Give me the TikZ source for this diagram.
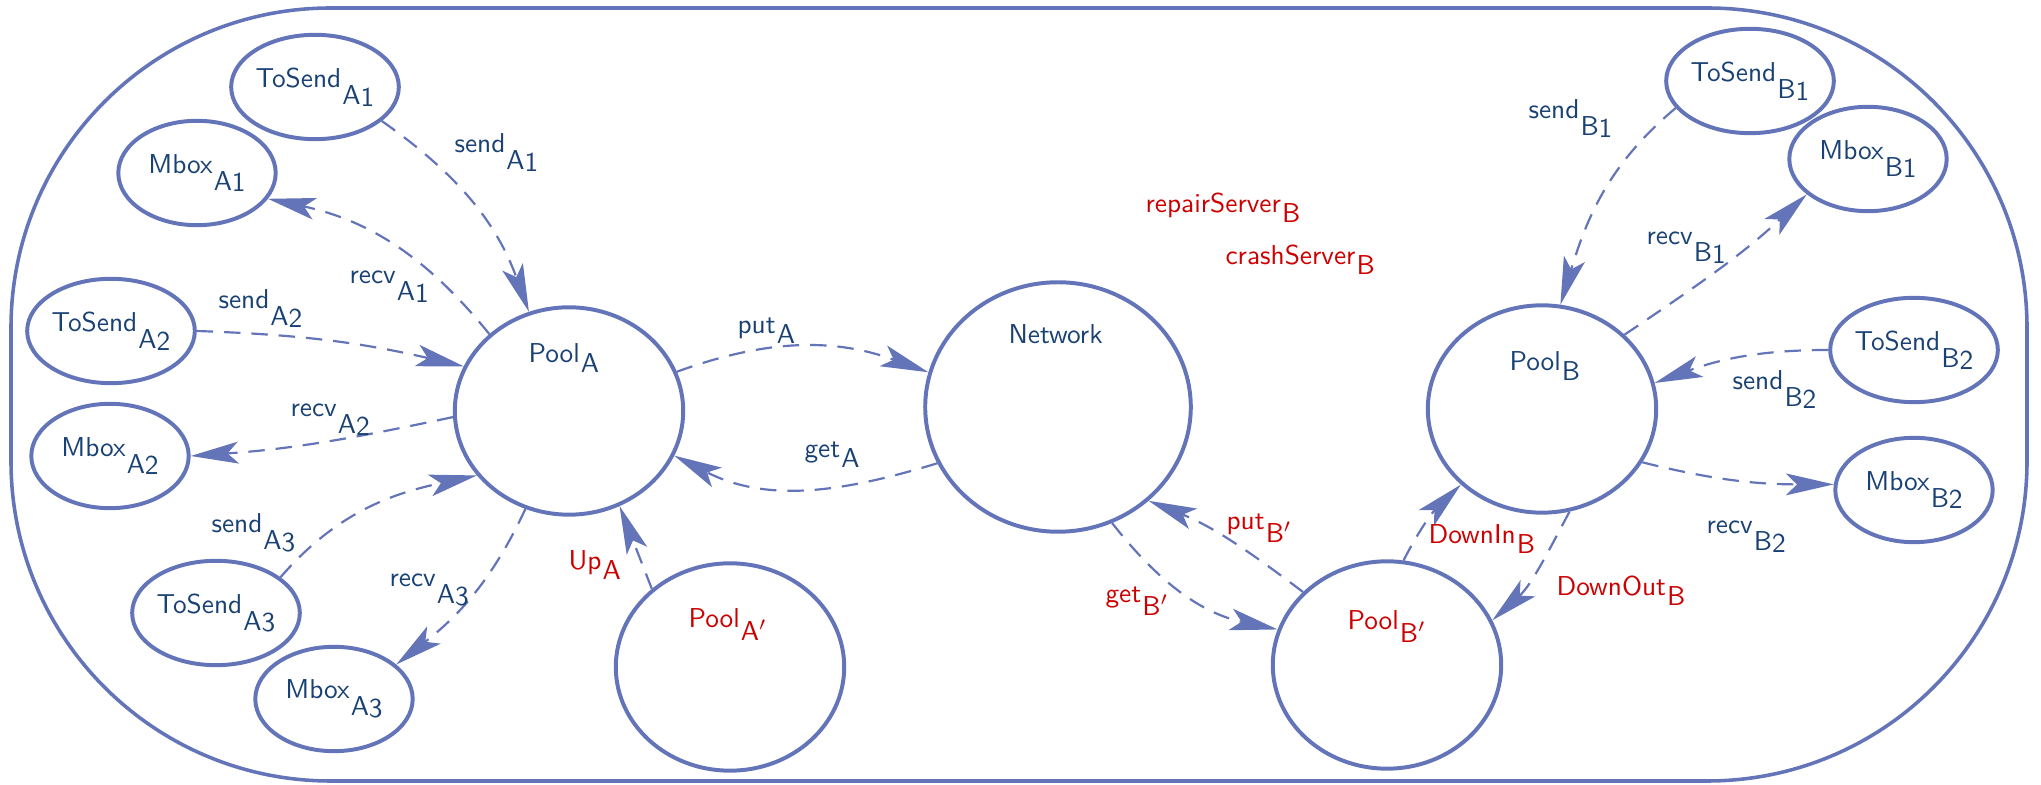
\documentclass[tikz,border=0pt]{standalone}
\usetikzlibrary{arrows.meta,shapes.geometric}

\definecolor{navy}{RGB}{25,65,115}
\definecolor{edgeblue}{RGB}{99,116,184}
\definecolor{alertred}{RGB}{204,0,0}

% full-size lowered subscripts
\newcommand\sbl[1]{\kern0.4pt\raisebox{-3.4pt}{#1}}
\newcommand\sbd[2]{\kern0.4pt\raisebox{-6.2pt}{#1\raisebox{-0.6pt}{#2}}}
\newcommand\sbp[1]{\kern0.4pt\raisebox{-4.5pt}{#1$'$}}

\begin{document}
\begin{tikzpicture}[x=0.366pt, y=0.366pt, font=\sffamily,
  place/.style={ellipse, draw=edgeblue, line width=1.45pt, inner sep=0pt, text=navy},
  smallplace/.style={place, minimum width=57.6pt, minimum height=38.2pt},
  bigplace/.style={place, minimum width=83.6pt, minimum height=75.9pt},
  netplace/.style={place, minimum width=97.2pt, minimum height=91.3pt},
  conn/.style={draw=edgeblue, line width=0.8pt, dash pattern=on 6pt off 4pt,
    -{Stealth[length=17.5pt, width=8pt, inset=4pt]}},
  lbl/.style={text=navy, anchor=base west, inner sep=0pt},
  rlbl/.style={text=alertred, anchor=base west, inner sep=0pt}]

\useasboundingbox (0,0) rectangle (2041,-785);

% enclosing frame
\draw[draw=edgeblue, line width=1.3pt, rounded corners=117pt] (11,-8) rectangle (2027,-781);

% places
\node[smallplace] (tsA1) at (315,-87) {ToSend\sbd{A}{1}};
\node[smallplace] (mbA1) at (197,-173) {Mbox\sbd{A}{1}};
\node[smallplace] (tsA2) at (111,-331) {ToSend\sbd{A}{2}};
\node[smallplace] (mbA2) at (110,-456) {Mbox\sbd{A}{2}};
\node[smallplace] (tsA3) at (216,-613) {ToSend\sbd{A}{3}};
\node[smallplace] (mbA3) at (334,-699) {Mbox\sbd{A}{3}};
\node[bigplace] (poolA) at (569,-411) {};
\node[bigplace] (poolAp) at (730,-667) {};
\node[netplace] (net) at (1058,-407) {};
\node[bigplace] (poolBp) at (1387,-665) {};
\node[bigplace] (poolB) at (1542,-409) {};
\node[smallplace] (tsB1) at (1750,-81) {ToSend\sbd{B}{1}};
\node[smallplace] (mbB1) at (1868,-159) {Mbox\sbd{B}{1}};
\node[smallplace] (tsB2) at (1914,-350) {ToSend\sbd{B}{2}};
\node[smallplace] (mbB2) at (1914,-490) {Mbox\sbd{B}{2}};

% names of the large places
\node[lbl] (t-poolA) at (528,-363) {Pool\sbl{A}};
\node[lbl] (t-net) at (1008,-344) {Network};
\node[lbl] (t-poolB) at (1509,-371) {Pool\sbl{B}};
\node[rlbl] (t-poolAp) at (688,-628) {Pool\sbp{A}};
\node[rlbl] (t-poolBp) at (1347,-630) {Pool\sbp{B}};

% arcs
\draw[conn] (tsA1.-27) to[out=-35, in=110] (poolA.112);
\draw[conn] (poolA.136) to[out=129, in=-12] (mbA1.-20);
\draw[conn] (tsA2.0) to[out=-2, in=167] (poolA.157);
\draw[conn] (poolA.183) to[out=192, in=4] (mbA2.0);
\draw[conn] (poolA.20) to[out=20, in=160] (net.165);
\draw[conn] (net.205) to[out=197, in=-27] (poolA.-23);
\draw[conn] (tsA3.29) to[out=49, in=192] (poolA.215);
\draw[conn] (poolA.246) to[out=245, in=38] (mbA3.29);
\draw[conn] (poolAp.135) -- (poolA.-62);
\draw[conn] (net.-65) to[out=-52, in=168] (poolBp.162);
\draw[conn] (poolBp.139) to[out=143, in=-22] (net.-46);
\draw[conn] (poolBp.81) to[out=63, in=224] (poolB.223);
\draw[conn] (poolB.-75) to[out=242, in=42] (poolBp.23);
\draw[conn] (tsB1.200) to[out=220, in=73] (poolB.80);
\draw[conn] (poolB.42) to[out=34, in=223] (mbB1.210);
\draw[conn] (tsB2.180) to[out=180, in=20] (poolB.13);
\draw[conn] (poolB.-28) to[out=-14, in=180] (mbB2.176);

% transition labels
\node[lbl] (l-sendA1) at (454,-153) {send\sbd{A}{1}};
\node[lbl] (l-recvA1) at (349,-284) {recv\sbd{A}{1}};
\node[lbl] (l-sendA2) at (218,-309) {send\sbd{A}{2}};
\node[lbl] (l-recvA2) at (290,-417) {recv\sbd{A}{2}};
\node[lbl] (l-putA) at (737,-334) {put\sbl{A}};
\node[lbl] (l-getA) at (804,-458) {get\sbl{A}};
\node[lbl] (l-sendA3) at (211,-533) {send\sbd{A}{3}};
\node[rlbl] (l-upA) at (568,-570) {Up\sbl{A}};
\node[lbl] (l-recvA3) at (389,-587) {recv\sbd{A}{3}};
\node[rlbl] (l-getBp) at (1105,-603) {get\sbp{B}};
\node[rlbl] (l-putBp) at (1226,-530) {put\sbp{B}};
\node[rlbl] (l-downin) at (1428,-544) {DownIn\sbl{B}};
\node[rlbl] (l-downout) at (1556,-596) {DownOut\sbl{B}};
\node[rlbl] (l-repair) at (1145,-213) {repairServer\sbl{B}};
\node[rlbl] (l-crash) at (1225,-265) {crashServer\sbl{B}};
\node[lbl] (l-sendB1) at (1528,-119) {send\sbd{B}{1}};
\node[lbl] (l-recvB1) at (1646,-245) {recv\sbd{B}{1}};
\node[lbl] (l-sendB2) at (1732,-390) {send\sbd{B}{2}};
\node[lbl] (l-recvB2) at (1706,-534) {recv\sbd{B}{2}};
\end{tikzpicture}
\end{document}
